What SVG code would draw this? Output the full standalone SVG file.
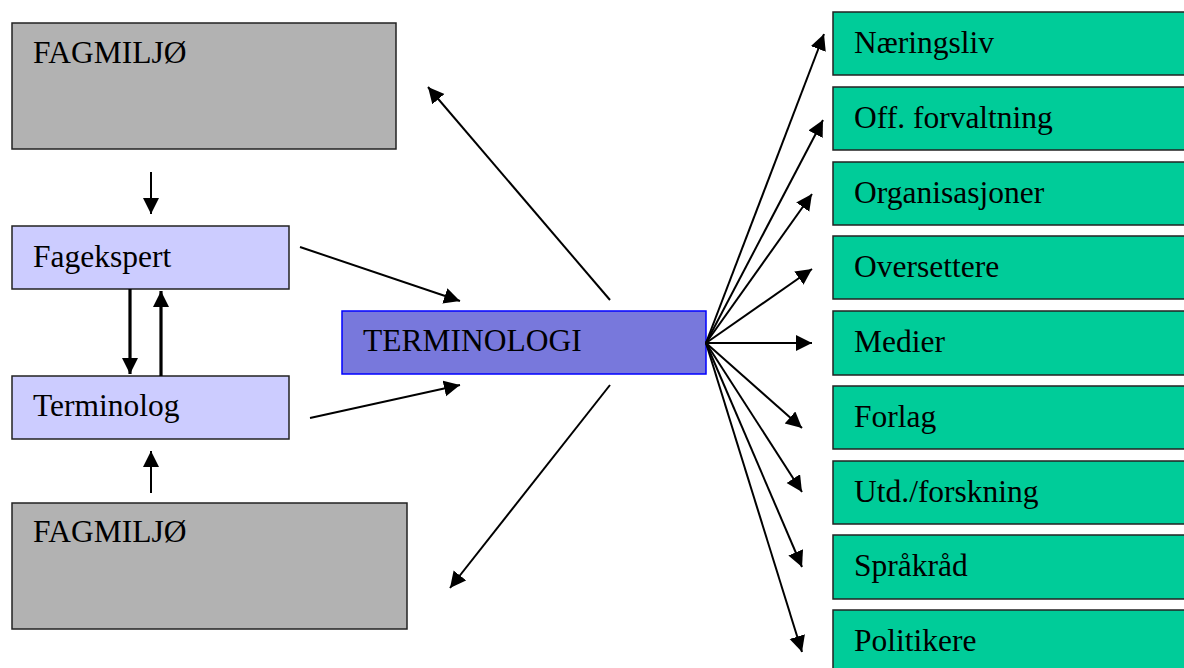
<svg xmlns="http://www.w3.org/2000/svg" width="1184" height="668" viewBox="0 0 1184 668">
<defs>
<style>
text{font-family:"Liberation Serif","Times New Roman",serif;font-size:31.5px;fill:#000}
.gray{fill:#B2B2B2;stroke:#222;stroke-width:1.5}
.lb{fill:#CCCCFF;stroke:#222;stroke-width:1.5}
.grn{fill:#00CC99;stroke:#222;stroke-width:1.5}
.term{fill:#7878DC;stroke:#0000FF;stroke-width:1.5}
.c{stroke:#000;stroke-width:2;fill:none;marker-end:url(#ah)}
.ct{stroke:#000;stroke-width:3.2;fill:none;marker-end:url(#ah)}
</style>
<marker id="ah" markerUnits="userSpaceOnUse" markerWidth="18" markerHeight="18" refX="16" refY="8" orient="auto" viewBox="0 0 18 18">
<path d="M0,0 L16,8 L0,16 z" fill="#000"/>
</marker>
</defs>
<g id="fagmiljo-top"><rect class="gray" x="12" y="23" width="384" height="126"/><text x="33" y="63">FAGMILJØ</text></g>
<g id="fagekspert"><rect class="lb" x="12" y="226" width="277" height="63"/><text x="33" y="267">Fagekspert</text></g>
<g id="terminolog"><rect class="lb" x="12" y="376" width="277" height="63"/><text x="33" y="416">Terminolog</text></g>
<g id="fagmiljo-bottom"><rect class="gray" x="12" y="503" width="395" height="126"/><text x="33" y="542">FAGMILJØ</text></g>
<g id="terminologi"><rect class="term" x="342" y="311" width="364" height="63"/><text x="363" y="351">TERMINOLOGI</text></g>
<g id="naeringsliv"><rect class="grn" x="833" y="12" width="360" height="63"/><text x="854" y="53">Næringsliv</text></g>
<g id="off-forvaltning"><rect class="grn" x="833" y="87" width="360" height="63"/><text x="854" y="128">Off. forvaltning</text></g>
<g id="organisasjoner"><rect class="grn" x="833" y="162" width="360" height="63"/><text x="854" y="203">Organisasjoner</text></g>
<g id="oversettere"><rect class="grn" x="833" y="236" width="360" height="63"/><text x="854" y="277">Oversettere</text></g>
<g id="medier"><rect class="grn" x="833" y="311" width="360" height="64"/><text x="854" y="352">Medier</text></g>
<g id="forlag"><rect class="grn" x="833" y="386" width="360" height="63"/><text x="854" y="427">Forlag</text></g>
<g id="utd-forskning"><rect class="grn" x="833" y="461" width="360" height="63"/><text x="854" y="502">Utd./forskning</text></g>
<g id="spraakraad"><rect class="grn" x="833" y="535" width="360" height="64"/><text x="854" y="576">Språkråd</text></g>
<g id="politikere"><rect class="grn" x="833" y="610" width="360" height="64"/><text x="854" y="651">Politikere</text></g>
<g id="connectors">
<line class="c" x1="151" y1="172" x2="151" y2="214"/>
<line class="ct" x1="130" y1="289" x2="130" y2="374"/>
<line class="ct" x1="161" y1="376" x2="161" y2="291"/>
<line class="c" x1="151" y1="493" x2="151" y2="451"/>
<line class="c" x1="300" y1="247" x2="460" y2="301"/>
<line class="c" x1="310" y1="418" x2="460" y2="385"/>
<line class="c" x1="610" y1="300" x2="428" y2="87"/>
<line class="c" x1="610" y1="385" x2="450" y2="588"/>
<line class="c" x1="706" y1="343" x2="824" y2="34"/>
<line class="c" x1="706" y1="343" x2="823" y2="120"/>
<line class="c" x1="706" y1="343" x2="812" y2="194"/>
<line class="c" x1="706" y1="343" x2="812" y2="269"/>
<line class="c" x1="706" y1="343" x2="812" y2="343"/>
<line class="c" x1="706" y1="343" x2="802" y2="428"/>
<line class="c" x1="706" y1="343" x2="802" y2="492"/>
<line class="c" x1="706" y1="343" x2="802" y2="567"/>
<line class="c" x1="706" y1="343" x2="802" y2="652"/>
</g>
</svg>
